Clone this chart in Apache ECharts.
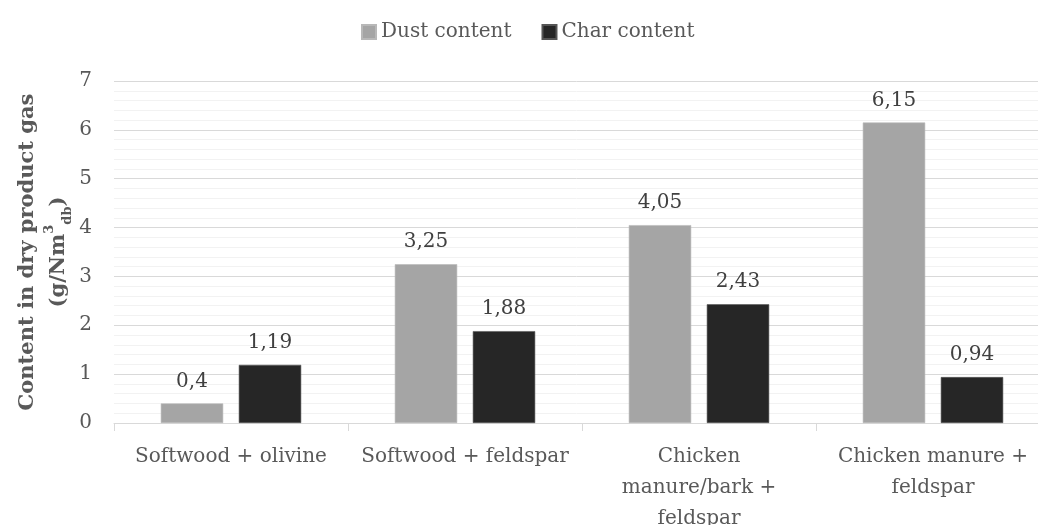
<!DOCTYPE html>
<html>
<head>
<meta charset="utf-8">
<script src="https://cdn.jsdelivr.net/npm/echarts@6/dist/echarts.min.js"></script>
<style>
  html, body { margin: 0; padding: 0; background: #ffffff; }
  #chart { width: 1038px; height: 525px; }
</style>
</head>
<body>
<div id="chart"></div>
<script>
// Categories (line breaks as they wrap under the axis)
const categories = [
  'Softwood + olivine',
  'Softwood + feldspar',
  'Chicken\nmanure/bark +\nfeldspar',
  'Chicken manure +\nfeldspar'
];
const seriesNames = ['Dust content', 'Char content'];
const dustContent = [0.4, 3.25, 4.05, 6.15];
const charContent = [1.19, 1.88, 2.43, 0.94];
const yTicks = [0, 1, 2, 3, 4, 5, 6, 7];

const FONT = '"DejaVu Serif", serif';
const TEXT = '#595959';

const fmtComma = v => String(v).replace('.', ',');

const chart = echarts.init(document.getElementById('chart'), null, { renderer: 'canvas' });

const valueLabel = {
  show: true,
  position: 'top',
  distance: 12,
  fontFamily: FONT,
  fontSize: 20,
  color: '#404040',
  formatter: p => fmtComma(p.value)
};

chart.setOption({
  backgroundColor: '#ffffff',
  animation: false,
  textStyle: { fontFamily: FONT },
  legend: {
    data: seriesNames,
    left: 361,
    top: 22,
    padding: 0,
    itemWidth: 14,
    itemHeight: 14,
    itemGap: 30,
    icon: 'rect',
    textStyle: { fontFamily: FONT, fontSize: 20, color: TEXT }
  },
  grid: {
    left: 114, top: 81, width: 936, bottom: 102,
    containLabel: false,
    outerBoundsMode: 'none'
  },
  xAxis: {
    type: 'category',
    data: categories,
    boundaryGap: true,
    axisLine: { show: true, lineStyle: { color: '#D9D9D9', width: 1 } },
    axisTick: { show: true, length: 8, lineStyle: { color: '#D9D9D9' }, alignWithLabel: false },
    axisLabel: {
      fontFamily: FONT, fontSize: 20, color: TEXT,
      margin: 18, lineHeight: 31, interval: 0
    },
    splitLine: { show: false }
  },
  yAxis: {
    type: 'value',
    min: yTicks[0],
    max: yTicks[yTicks.length - 1],
    interval: 1,
    axisLine: { show: false },
    axisTick: { show: false },
    axisLabel: { fontFamily: FONT, fontSize: 20, color: TEXT, margin: 22 },
    splitLine: { show: true, lineStyle: { color: '#D9D9D9', width: 1 } },
    minorTick: { show: false, splitNumber: 5 },
    minorSplitLine: { show: true, lineStyle: { color: '#F2F2F2', width: 1 } },
    name: '{a|Content in dry product gas}\n{a|(g/Nm}{sup|3}{sub|db}{a|)}',
    nameLocation: 'middle',
    nameGap: 40,
    nameMoveOverlap: false,
    nameRotate: 90,
    nameTextStyle: {
      fontFamily: FONT,
      color: TEXT,
      rich: {
        a: { fontFamily: FONT, fontSize: 21, fontWeight: 'bold', color: TEXT, lineHeight: 31 },
        sup: { fontFamily: FONT, fontSize: 13, fontWeight: 'bold', color: TEXT, verticalAlign: 'top', lineHeight: 31, padding: [0, 0, 10, 0] },
        sub: { fontFamily: FONT, fontSize: 13, fontWeight: 'bold', color: TEXT, verticalAlign: 'bottom', lineHeight: 31, padding: [8, 0, 0, 0] }
      }
    }
  },
  series: [
    {
      name: seriesNames[0],
      type: 'bar',
      data: dustContent,
      itemStyle: { color: '#A5A5A5', borderColor: '#B8B8B8', borderWidth: 0.6 },
      barGap: '25%',
      barCategoryGap: '40%',
      label: valueLabel
    },
    {
      name: seriesNames[1],
      type: 'bar',
      data: charContent,
      itemStyle: { color: '#262626', borderColor: '#555555', borderWidth: 0.6 },
      barGap: '25%',
      barCategoryGap: '40%',
      label: valueLabel
    }
  ]
});
</script>
</body>
</html>
